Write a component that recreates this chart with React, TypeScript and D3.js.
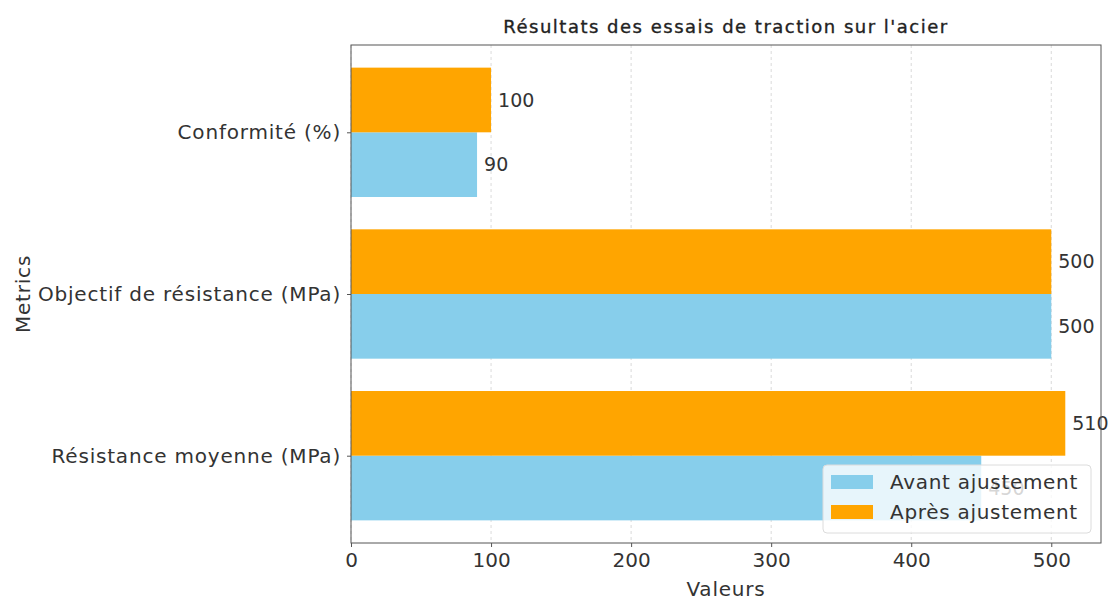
import React, { useEffect, useRef } from 'react';
import * as d3 from 'd3';

const categories = ['Résistance moyenne (MPa)', 'Objectif de résistance (MPa)', 'Conformité (%)'];
const avantValues = [450, 500, 90];
const apresValues = [510, 500, 100];
const seriesNames = ['Avant ajustement', 'Après ajustement'];
const xTicks = [0, 100, 200, 300, 400, 500];

const FONT = "'DejaVu Sans', sans-serif";
const BLUE = '#87ceeb';
const ORANGE = '#ffa500';
const TEXT = '#333';

const App = () => {
  const svgRef = useRef<SVGSVGElement>(null);

  useEffect(() => {
    const W = 1110, H = 601;
    const svg = d3.select(svgRef.current).attr('width', W).attr('height', H);
    svg.selectAll('*').remove();

    const left = 351, right = 1101, top = 45, bottom = 543;
    const barH = 0.4;

    const x = d3.scaleLinear().domain([0, 535.5]).range([left, right]);
    const y = d3.scaleLinear().domain([-0.54, 2.54]).range([bottom, top]);

    // grid
    svg.append('g')
      .selectAll('line')
      .data(xTicks)
      .join('line')
      .attr('x1', (d) => x(d)).attr('x2', (d) => x(d))
      .attr('y1', top).attr('y2', bottom)
      .attr('stroke', '#d0d0d0')
      .attr('stroke-width', 0.8)
      .attr('stroke-dasharray', '3,3');

    const bars = svg.append('g');
    // avant sits below the tick, apres above
    bars.selectAll('rect.avant')
      .data(avantValues)
      .join('rect')
      .attr('class', 'avant')
      .attr('x', x(0))
      .attr('y', (_, i) => y(i))
      .attr('width', (d) => x(d) - x(0))
      .attr('height', (_, i) => y(i - barH) - y(i))
      .attr('fill', BLUE);
    bars.selectAll('rect.apres')
      .data(apresValues)
      .join('rect')
      .attr('class', 'apres')
      .attr('x', x(0))
      .attr('y', (_, i) => y(i + barH))
      .attr('width', (d) => x(d) - x(0))
      .attr('height', (_, i) => y(i) - y(i + barH))
      .attr('fill', ORANGE);

    // value labels
    const labels = svg.append('g')
      .attr('font-family', FONT)
      .attr('font-size', 19)
      .attr('fill', TEXT);
    labels.selectAll('text.avant')
      .data(avantValues)
      .join('text')
      .attr('class', 'avant')
      .attr('x', (d) => x(d) + 7)
      .attr('y', (_, i) => y(i - barH / 2))
      .attr('dy', '0.35em')
      .text((d) => d);
    labels.selectAll('text.apres')
      .data(apresValues)
      .join('text')
      .attr('class', 'apres')
      .attr('x', (d) => x(d) + 7)
      .attr('y', (_, i) => y(i + barH / 2))
      .attr('dy', '0.35em')
      .text((d) => d);

    // spines
    svg.append('rect')
      .attr('x', left).attr('y', top)
      .attr('width', right - left).attr('height', bottom - top)
      .attr('fill', 'none')
      .attr('stroke', '#555')
      .attr('stroke-width', 1);

    // x axis
    const xAxis = svg.append('g')
      .attr('transform', `translate(0,${bottom})`)
      .call(d3.axisBottom(x).tickValues(xTicks).tickSize(4).tickPadding(6));
    xAxis.select('.domain').remove();
    xAxis.selectAll('line').attr('stroke', '#555');
    xAxis.selectAll('text').attr('font-family', FONT).attr('font-size', 20).attr('fill', TEXT);

    // y axis
    const yAxis = svg.append('g')
      .attr('transform', `translate(${left},0)`)
      .call(d3.axisLeft(y).tickValues(categories.map((_, i) => i))
        .tickFormat((d) => categories[d as number]).tickSize(4).tickPadding(6));
    yAxis.select('.domain').remove();
    yAxis.selectAll('line').attr('stroke', '#555');
    yAxis.selectAll('text')
      .attr('font-family', FONT).attr('font-size', 20)
      .attr('letter-spacing', 0.8).attr('fill', TEXT);

    // title and axis labels
    svg.append('text')
      .attr('x', (left + right) / 2).attr('y', 33)
      .attr('text-anchor', 'middle')
      .attr('font-family', FONT).attr('font-size', 18)
      .attr('letter-spacing', 1.5)
      .attr('fill', '#222')
      .attr('stroke', '#222').attr('stroke-width', 0.35)
      .text("Résultats des essais de traction sur l'acier");
    svg.append('text')
      .attr('x', (left + right) / 2).attr('y', 596)
      .attr('text-anchor', 'middle')
      .attr('font-family', FONT).attr('font-size', 20)
      .attr('letter-spacing', 0.8)
      .attr('fill', TEXT)
      .text('Valeurs');
    svg.append('text')
      .attr('transform', `translate(30,${(top + bottom) / 2}) rotate(-90)`)
      .attr('text-anchor', 'middle')
      .attr('font-family', FONT).attr('font-size', 20)
      .attr('letter-spacing', 0.8)
      .attr('fill', TEXT)
      .text('Metrics');

    // legend
    const lg = svg.append('g').attr('transform', 'translate(823,465)');
    lg.append('rect')
      .attr('width', 268).attr('height', 68)
      .attr('rx', 4)
      .attr('fill', 'rgba(255,255,255,0.8)')
      .attr('stroke', '#dcdcdc');
    const items = lg.selectAll('g.item')
      .data(seriesNames)
      .join('g')
      .attr('class', 'item')
      .attr('transform', (_, i) => `translate(8,${10 + i * 30})`);
    items.append('rect')
      .attr('width', 42).attr('height', 14)
      .attr('fill', (_, i) => (i === 0 ? BLUE : ORANGE));
    items.append('text')
      .attr('x', 59).attr('y', 7)
      .attr('dy', '0.35em')
      .attr('font-family', FONT).attr('font-size', 20)
      .attr('letter-spacing', 0.7)
      .attr('fill', TEXT)
      .text((d) => d);
  }, []);

  return (
    <div>
      <svg ref={svgRef} style={{ position: 'absolute', left: 0, top: 0 }}></svg>
    </div>
  );
};

export default App;
